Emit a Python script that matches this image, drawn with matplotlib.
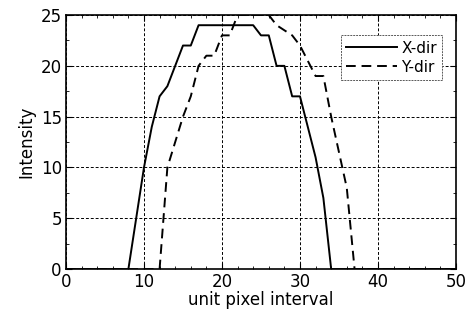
import matplotlib
matplotlib.use('Agg')
import matplotlib.pyplot as plt
from matplotlib.ticker import MultipleLocator

plt.rcParams['font.family'] = ['DejaVu Sans']

# X-direction intensity profile
x_pos = [0, 8, 10, 11, 12, 13, 14, 15, 16, 17, 24, 25, 26, 27, 28, 29, 30, 31, 32, 33, 34, 50]
x_int = [0, 0, 10, 14, 17, 18, 20, 22, 22, 24, 24, 23, 23, 20, 20, 17, 17, 14, 11, 7, 0, 0]

# Y-direction intensity profile
y_pos = [0, 12, 13, 14, 15, 16, 17, 18, 19, 20, 21, 22, 26, 27, 28, 29, 30, 31, 32, 33, 34, 35, 36, 37, 50]
y_int = [0, 0, 10, 12.5, 15, 17, 20, 21, 21, 23, 23, 25, 25, 24, 23.5, 23, 22, 20.5, 19, 19, 15, 11.5, 8, 0, 0]

fig = plt.figure(figsize=(4.73, 3.2), dpi=100)
ax = fig.add_axes([0.1395, 0.159, 0.8245, 0.794])

ax.plot(x_pos, x_int, '-k', lw=1.4, label='X-dir')
ax.plot(y_pos, y_int, '--k', lw=1.4, label='Y-dir', dashes=(5, 3))

ax.set_xlim(0, 50)
ax.set_ylim(0, 25)
ax.xaxis.set_major_locator(MultipleLocator(10))
ax.yaxis.set_major_locator(MultipleLocator(5))
ax.xaxis.set_minor_locator(MultipleLocator(2))
ax.yaxis.set_minor_locator(MultipleLocator(2.5))
ax.tick_params(which='both', direction='in', top=True, right=True, labelsize=12)
ax.tick_params(axis='x', pad=2.5)
ax.tick_params(axis='y', pad=3)
ax.tick_params(which='major', length=4)
ax.tick_params(which='minor', length=2.5)
ax.grid(True, which='major', color='k', linestyle=(0, (3, 2)), linewidth=0.7)
for s in ax.spines.values():
    s.set_linewidth(1.2)

ax.set_xlabel('unit pixel interval', fontsize=12, labelpad=0.5)
ax.set_ylabel('Intensity', fontsize=12, labelpad=4)

leg = ax.legend(loc='upper right', bbox_to_anchor=(0.965, 0.92), fontsize=11,
                fancybox=False, framealpha=1, edgecolor='0.35', borderaxespad=0,
                handlelength=3.3, handletextpad=0.3, borderpad=0.35, labelspacing=0.25)
leg.get_frame().set_linewidth(0.7)
leg.get_frame().set_linestyle((0, (2, 1)))

fig.savefig('out.png', dpi=100)
